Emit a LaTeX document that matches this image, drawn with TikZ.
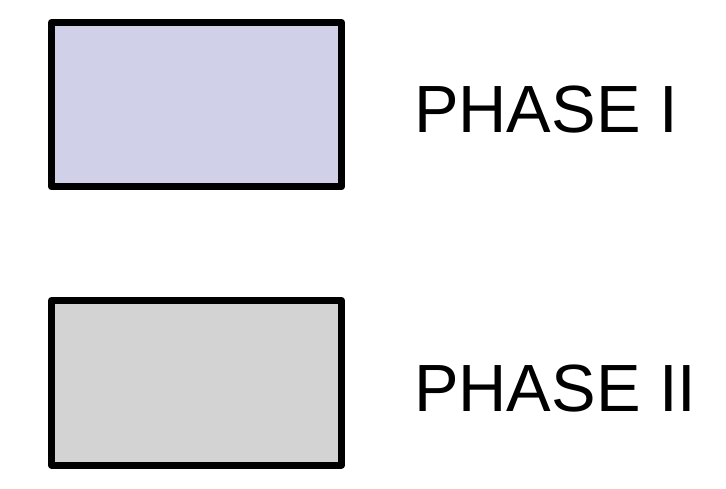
\documentclass[tikz,border=0pt]{standalone}
\usepackage{fontspec}
\setmainfont{Liberation Sans}
\usetikzlibrary{positioning}
\definecolor{phaseone}{RGB}{208,208,232}
\definecolor{phasetwo}{RGB}{211,211,211}
\begin{document}
\begin{tikzpicture}[x=1pt, y=-1pt,
    legendbox/.style={draw=black, line width=7pt, line join=round, minimum width=290pt, minimum height=164.5pt, inner sep=0pt, outer sep=0pt},
    legendlabel/.style={anchor=base west, inner sep=0pt, font=\fontsize{66.8}{80}\selectfont}]
        \useasboundingbox (0,0) rectangle (726,489);
        \node[legendbox, fill=phaseone] (boxone) at (196.5,104.75) {};
        \node[legendbox, fill=phasetwo] (boxtwo) at (196.5,382.75) {};
        \node[legendlabel] (labelone) at (414,133) {PHASE I};
        \node[legendlabel] (labeltwo) at (414,411) {PHASE II};
      \end{tikzpicture}
\end{document}
